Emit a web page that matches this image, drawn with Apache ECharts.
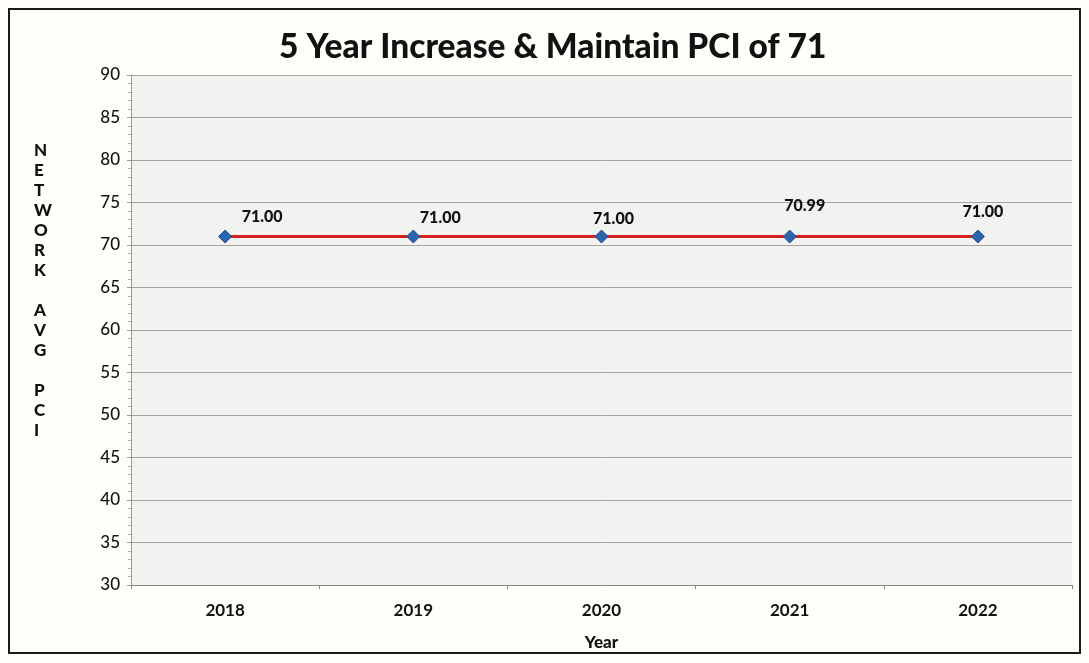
<!DOCTYPE html>
<html>
<head>
<meta charset="utf-8">
<script src="https://cdn.jsdelivr.net/npm/echarts@6/dist/echarts.min.js"></script>
<style>
  html, body { margin: 0; padding: 0; background: #fffffb; }
  #frame { position: absolute; left: 8px; top: 8px; width: 1073px; height: 646px;
           border: 2px solid #1a1a1a; box-sizing: border-box; background: #fffffa; }
  #chart { position: absolute; left: 0; top: 0; width: 1089px; height: 663px; }
</style>
</head>
<body>
<div id="frame"></div>
<div id="chart"></div>
<script>
// Network average PCI by year
const years = ['2018', '2019', '2020', '2021', '2022'];
const pciValues = [71.00, 71.00, 71.00, 70.99, 71.00];
const yTicks = [30, 35, 40, 45, 50, 55, 60, 65, 70, 75, 80, 85, 90];

// per-point nudges for the value labels
const labelNudges = [[37, 0], [27, 1], [12, 2], [15, -11], [5, -5]];

const font = 'Lato, "Open Sans", sans-serif';

const chart = echarts.init(document.getElementById('chart'), null, { renderer: 'canvas' });

const seriesData = pciValues.map((v, i) => ({
  value: v,
  label: { offset: labelNudges[i] }
}));

chart.setOption({
  backgroundColor: 'transparent',
  title: {
    text: '5 Year Increase & Maintain PCI of 71',
    left: 274,
    top: 25,
    textStyle: { fontFamily: font, fontWeight: 900, fontSize: 33.5, color: '#111' }
  },
  graphic: [{
    type: 'text',
    left: 34,
    top: 141,
    style: {
      text: 'N\nE\nT\nW\nO\nR\nK\n\nA\nV\nG\n\nP\nC\nI',
      font: '900 17px ' + font,
      fill: '#111',
      lineHeight: 20,
      align: 'center',
      width: 17
    }
  }],
  grid: { left: 131, right: 17, top: 75, bottom: 78, containLabel: false,
          show: true, backgroundColor: '#f2f2f0', borderWidth: 0 },
  xAxis: {
    type: 'category',
    data: years,
    boundaryGap: true,
    name: 'Year',
    nameLocation: 'middle',
    nameGap: 49,
    nameTextStyle: { fontFamily: font, fontWeight: 900, fontSize: 17, color: '#111' },
    axisLine: { lineStyle: { color: '#888', width: 1 } },
    axisTick: { show: true, length: 4, lineStyle: { color: '#888' } },
    axisLabel: { fontFamily: font, fontWeight: 'bold', fontSize: 17, color: '#111', margin: 17 }
  },
  yAxis: {
    type: 'value',
    min: yTicks[0],
    max: yTicks[yTicks.length - 1],
    interval: 5,
    axisLine: { show: true, lineStyle: { color: '#999', width: 1 } },
    axisTick: { show: true, length: 4, lineStyle: { color: '#999' } },
    minorTick: { show: true, splitNumber: 5, length: 3, lineStyle: { color: '#aaa' } },
    splitLine: { show: true, lineStyle: { color: '#a4a4a4', width: 1 } },
    axisLabel: { fontFamily: font, fontWeight: 500, fontSize: 17, color: '#111', margin: 11 }
  },
  series: [{
    type: 'line',
    data: seriesData,
    symbol: 'diamond',
    symbolSize: 13,
    itemStyle: { color: '#2a66b0', borderColor: '#1d4f8f', borderWidth: 1 },
    lineStyle: { color: '#d92020', width: 3 },
    label: {
      show: true,
      position: 'top',
      formatter: p => p.value.toFixed(2),
      fontFamily: font,
      fontWeight: 900,
      fontSize: 16,
      color: '#111'
    },
    animation: false
  }],
  animation: false
});
</script>
</body>
</html>
